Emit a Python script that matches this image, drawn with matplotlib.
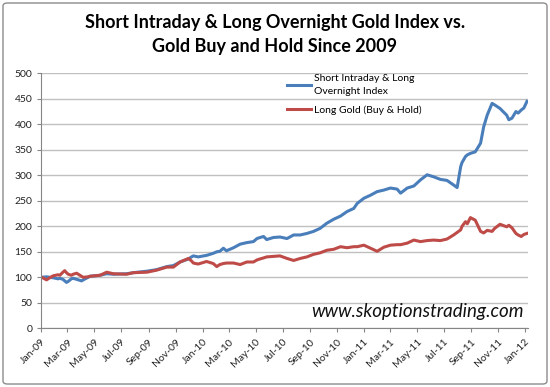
import numpy as np
import pandas as pd
import matplotlib
matplotlib.use('Agg')
import matplotlib.pyplot as plt
import matplotlib.dates as mdates
from matplotlib.patches import FancyBboxPatch

plt.rcParams['font.family'] = ['Lato', 'DejaVu Sans']

# 数据
dates = [
    '2009-01-02', '2009-01-13', '2009-01-20', '2009-01-28', '2009-02-08', '2009-02-12',
    '2009-02-19', '2009-02-23', '2009-02-27', '2009-03-03', '2009-03-10', '2009-03-14',
    '2009-03-22', '2009-04-02', '2009-04-06', '2009-04-17', '2009-04-21', '2009-05-14',
    '2009-05-29', '2009-06-13', '2009-07-13', '2009-07-28', '2009-08-28', '2009-09-19',
    '2009-10-12', '2009-10-27', '2009-11-11', '2009-11-30', '2009-12-07', '2009-12-11',
    '2009-12-22', '2010-01-10', '2010-01-25', '2010-02-02', '2010-02-09', '2010-02-17',
    '2010-02-24', '2010-03-12', '2010-03-27', '2010-04-11', '2010-04-26', '2010-05-04',
    '2010-05-11', '2010-05-19', '2010-05-26', '2010-06-10', '2010-06-25', '2010-07-11',
    '2010-07-26', '2010-08-10', '2010-08-25', '2010-09-09', '2010-09-24', '2010-10-09',
    '2010-10-25', '2010-11-09', '2010-11-24', '2010-12-09', '2010-12-17', '2011-01-01',
    '2011-01-16', '2011-01-31', '2011-02-15', '2011-03-02', '2011-03-17', '2011-03-25',
    '2011-04-09', '2011-04-24', '2011-05-09', '2011-05-24', '2011-06-08', '2011-06-23',
    '2011-07-08', '2011-07-23', '2011-07-31', '2011-08-08', '2011-08-11', '2011-08-19',
    '2011-08-23', '2011-08-30', '2011-09-10', '2011-09-22', '2011-09-29', '2011-10-07',
    '2011-10-18', '2011-10-24', '2011-11-05', '2011-11-20', '2011-11-25', '2011-12-02',
    '2011-12-11', '2011-12-16', '2011-12-23', '2011-12-29', '2012-01-05',
]
intraday_index = [
    100, 101, 100, 99, 97, 98, 96, 93, 90, 92, 97, 98,
    96, 93, 95, 100, 102, 104, 107, 106, 107, 109, 112, 115,
    121, 123, 130, 136, 140, 142, 140, 143, 147, 150, 151, 157,
    152, 158, 165, 168, 170, 176, 178, 180, 174, 178, 179, 176,
    183, 183, 186, 190, 196, 206, 214, 220, 229, 235, 245, 255,
    261, 268, 271, 275, 273, 265, 275, 279, 291, 301, 297, 292,
    290, 281, 276, 317, 325, 337, 340, 343, 346, 363, 395, 418,
    441, 438, 431, 418, 409, 412, 425, 422, 428, 432, 445,
]
gold_hold = [
    100, 95, 99, 103, 105, 104, 110, 113, 109, 106, 104, 106,
    108, 102, 100, 101, 102, 104, 110, 107, 106, 109, 110, 114,
    120, 120, 130, 137, 132, 128, 126, 131, 127, 121, 125, 127,
    128, 128, 125, 130, 130, 134, 136, 138, 140, 141, 142, 137,
    133, 137, 140, 145, 148, 153, 155, 160, 158, 160, 160, 163,
    157, 151, 159, 163, 164, 164, 167, 173, 170, 172, 173, 172,
    175, 183, 188, 193, 200, 209, 205, 217, 212, 190, 187, 192,
    190, 196, 204, 199, 202, 197, 186, 183, 180, 184, 186,
]
series_labels = ['Short Intraday & Long\nOvernight Index', 'Long Gold (Buy & Hold)']
series_colors = ['#4A7EBB', '#BE4B48']

x = pd.to_datetime(dates)

fig = plt.figure(figsize=(5.5, 3.87), dpi=100)
ax = fig.add_axes([41.3 / 550, 58.7 / 387, 487 / 550, 255 / 387])

ax.plot(x, intraday_index, color=series_colors[0], lw=2.2, label=series_labels[0])
ax.plot(x, gold_hold, color=series_colors[1], lw=2.2, label=series_labels[1])

ax.set_ylim(0, 500)
ax.set_yticks(np.arange(0, 501, 50))
ax.set_xlim(pd.Timestamp('2009-01-01'), pd.Timestamp('2012-01-08'))
ax.xaxis.set_major_locator(mdates.MonthLocator(bymonth=[1, 3, 5, 7, 9, 11]))
ax.xaxis.set_major_formatter(mdates.DateFormatter('%b-%y'))
plt.setp(ax.get_xticklabels(), rotation=45, ha='right', rotation_mode='anchor')

ax.grid(axis='y', color='#c0c0c0', lw=1)
ax.set_axisbelow(True)
for side in ['top', 'right']:
    ax.spines[side].set_visible(False)
for side in ['left', 'bottom']:
    ax.spines[side].set_color('#868686')
ax.tick_params(axis='both', colors='#868686', labelcolor='#222222', labelsize=7.5, length=3)

leg = ax.legend(loc='upper left', bbox_to_anchor=(0.485, 1.035), frameon=False,
                fontsize=7.5, handlelength=2.3, handletextpad=0.3, labelspacing=0.9)
leg.get_texts()[0].set_linespacing(1.6)

ax.text(0.99, 0.065, 'www.skoptionstrading.com', transform=ax.transAxes,
        ha='right', va='center', fontsize=13.5, style='italic', color='#111111')

fig.text(0.5, 0.912, 'Short Intraday & Long Overnight Gold Index vs.\nGold Buy and Hold Since 2009',
         ha='center', va='center', fontsize=13, fontweight='bold', linespacing=1.5)

border = FancyBboxPatch((3 / 550, 3 / 387), 544 / 550, 381 / 387, transform=fig.transFigure,
                        boxstyle='round,pad=0,rounding_size=0.008', fill=False,
                        edgecolor='#8c8c8c', lw=1)
fig.patches.append(border)

fig.savefig('out.png', dpi=100)
